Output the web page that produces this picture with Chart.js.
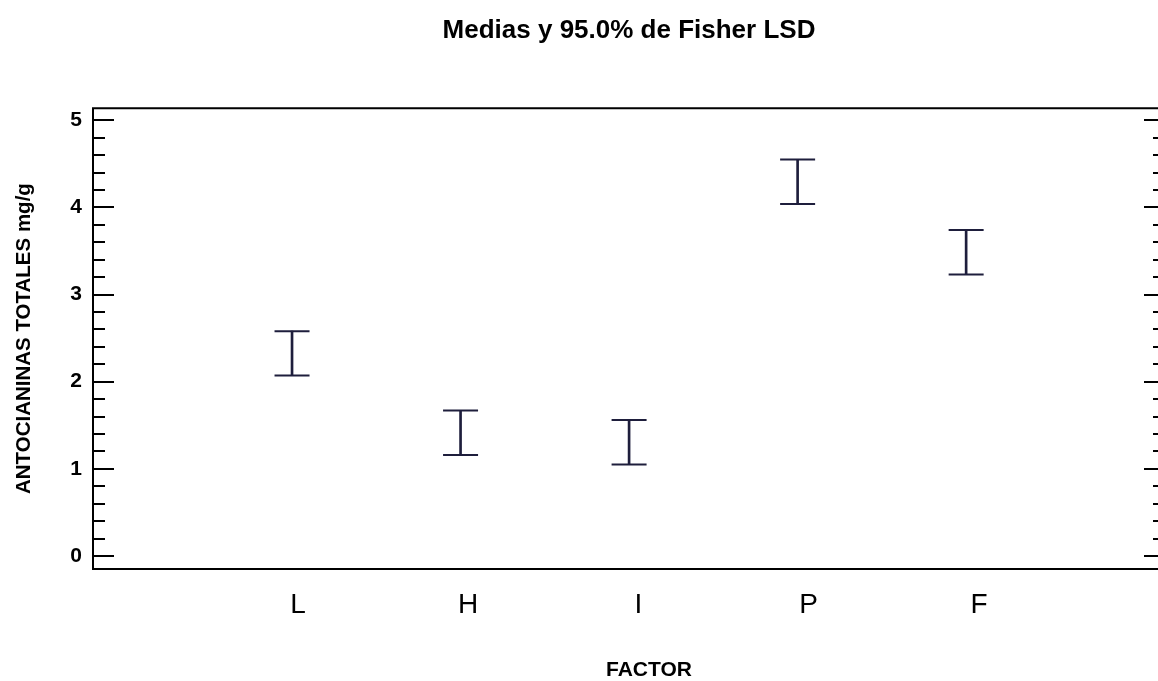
<!DOCTYPE html>
<html>
<head>
<meta charset="utf-8">
<script src="https://cdn.jsdelivr.net/npm/chart.js@4.4.1/dist/chart.umd.min.js"></script>
<style>
  html, body { margin: 0; padding: 0; background: #fff; overflow: hidden; }
  #wrap { position: relative; width: 1165px; height: 681px; }
</style>
</head>
<body>
<div id="wrap"><canvas id="c"></canvas></div>
<script>
// ---- data ----
const categories = ['L', 'H', 'I', 'P', 'F'];
const positions = [1, 2, 3, 4, 5];
const lowerLimits = [2.07, 1.16, 1.05, 4.04, 3.23];
const upperLimits = [2.58, 1.67, 1.56, 4.55, 3.74];
const yMajorTicks = [0, 1, 2, 3, 4, 5];
const titleText = 'Medias y 95.0% de Fisher LSD';
const xTitleText = 'FACTOR';
const yTitleText = 'ANTOCIANINAS TOTALES mg/g';

const barColor = '#1e1e3c';
const FONT = '"Liberation Sans", Arial, Helvetica, sans-serif';

const stemData = positions.map((x, i) => ({ x: x, y: [lowerLimits[i], upperLimits[i]] }));
const lowData = positions.map((x, i) => ({ x: x, y: lowerLimits[i] }));
const highData = positions.map((x, i) => ({ x: x, y: upperLimits[i] }));

const frameTicks = {
  id: 'frameTicks',
  afterDraw(chart) {
    const { ctx, chartArea: a } = chart;
    const ys = chart.scales.y;
    ctx.save();
    ctx.strokeStyle = '#000';
    ctx.lineWidth = 2;
    ctx.lineCap = 'butt';
    ctx.beginPath();
    ctx.moveTo(a.left, a.top); ctx.lineTo(a.right, a.top);
    ctx.moveTo(a.left, a.bottom); ctx.lineTo(a.right, a.bottom);
    ctx.moveTo(a.left, a.top - 1); ctx.lineTo(a.left, a.bottom + 1);
    ctx.moveTo(a.right, a.top - 1); ctx.lineTo(a.right, a.bottom + 1);
    ctx.stroke();
    ctx.beginPath();
    for (let k = 0; k <= 25; k++) {
      const v = k / 5;
      const y = Math.round(ys.getPixelForValue(v));
      const major = k % 5 === 0;
      const len = major ? 21 : 12;
      ctx.moveTo(a.left, y); ctx.lineTo(a.left + len, y);
      ctx.moveTo(a.right, y); ctx.lineTo(a.right - len, y);
    }
    ctx.stroke();
    // x-axis title
    ctx.fillStyle = '#000';
    ctx.font = 'bold 21px ' + FONT;
    ctx.textAlign = 'center';
    ctx.textBaseline = 'middle';
    ctx.fillText(xTitleText, (a.left + a.right) / 2 + 20, chart.height - 10.5);
    ctx.restore();
  }
};

new Chart(document.getElementById('c'), {
  data: {
    datasets: [
      {
        type: 'bar',
        data: stemData,
        xAxisID: 'x',
        yAxisID: 'y',
        backgroundColor: barColor,
        borderWidth: 0,
        barThickness: 2,
        grouped: false
      },
      {
        type: 'scatter',
        data: lowData,
        xAxisID: 'x',
        yAxisID: 'y',
        pointStyle: 'line',
        radius: 17.5,
        hoverRadius: 17.5,
        borderWidth: 2,
        borderColor: barColor,
        backgroundColor: barColor
      },
      {
        type: 'scatter',
        data: highData,
        xAxisID: 'x',
        yAxisID: 'y',
        pointStyle: 'line',
        radius: 17.5,
        hoverRadius: 17.5,
        borderWidth: 2,
        borderColor: barColor,
        backgroundColor: barColor
      }
    ]
  },
  options: {
    responsive: true,
    maintainAspectRatio: false,
    animation: false,
    devicePixelRatio: 1,
    layout: { autoPadding: false, padding: { left: 0, right: 0, top: 0, bottom: 0 } },
    plugins: {
      legend: { display: false },
      tooltip: { enabled: false },
      title: {
        display: true,
        fullSize: false,
        text: titleText,
        color: '#000',
        font: { family: FONT, size: 26, weight: 'bold', lineHeight: 1.2 },
        padding: { top: 15, bottom: 62 }
      }
    },
    scales: {
      x: {
        type: 'linear',
        display: false,
        offset: false,
        grid: { offset: false },
        min: -0.181,
        max: 6.18
      },
      x2: {
        type: 'linear',
        position: 'bottom',
        offset: false,
        min: -0.204,
        max: 6.093,
        grid: { display: false, drawTicks: false, offset: false },
        border: { display: false },
        afterBuildTicks(scale) { scale.ticks = positions.map(v => ({ value: v })); },
        afterFit(scale) { scale.height = 112; },
        ticks: {
          autoSkip: false,
          maxRotation: 0,
          padding: 19,
          color: '#000',
          font: { family: FONT, size: 28 },
          callback: (v) => categories[positions.indexOf(v)] || ''
        },
        title: { display: false }
      },
      y: {
        type: 'linear',
        position: 'left',
        min: -0.149,
        max: 5.138,
        grid: { display: false, drawTicks: false },
        border: { display: false },
        afterBuildTicks(scale) { scale.ticks = yMajorTicks.map(v => ({ value: v })); },
        afterFit(scale) { scale.width = 93; },
        ticks: {
          padding: 11,
          color: '#000',
          font: { family: FONT, size: 21, weight: 'bold' }
        },
        title: {
          display: true,
          text: yTitleText,
          color: '#000',
          font: { family: FONT, size: 20.5, weight: 'bold' },
          padding: { top: 12, bottom: 0 }
        }
      }
    }
  },
  plugins: [frameTicks]
});
</script>
</body>
</html>
